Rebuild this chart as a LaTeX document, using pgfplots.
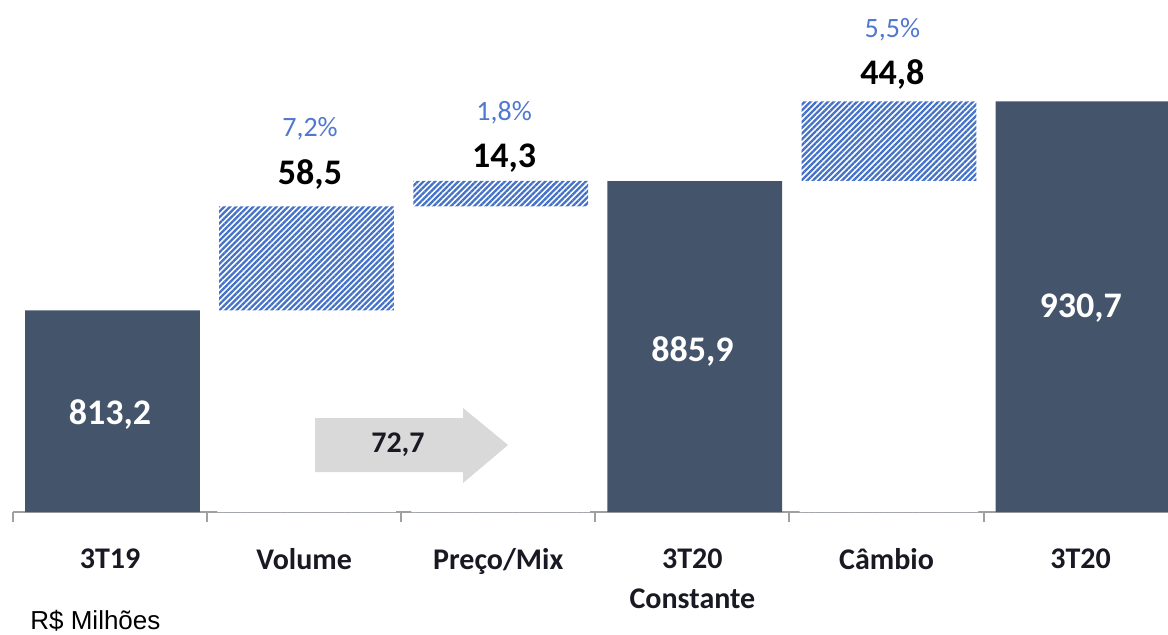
\documentclass[border=0pt]{standalone}
\usepackage{pgfplots}
\pgfplotsset{compat=1.18}
\usepackage{fontspec}
\setmainfont{Carlito}
\newfontfamily\arialfont{Liberation Sans}
\usetikzlibrary{patterns.meta}

\definecolor{barslate}{RGB}{68,84,106}
\definecolor{hatchblue}{RGB}{68,114,200}
\definecolor{pctblue}{RGB}{79,120,206}
\definecolor{arrowgray}{RGB}{217,217,217}
\definecolor{axisgray}{RGB}{160,160,160}
\definecolor{labelink}{RGB}{25,25,35}

\begin{document}
\begin{tikzpicture}
\useasboundingbox (0,0) rectangle (584pt,317pt);
\begin{axis}[
  at={(6.5pt,61pt)}, anchor=south west,
  scale only axis, width=577.5pt, height=256pt,
  xmin=-0.5, xmax=5.45, ymin=700, ymax=987.6,
  hide y axis, axis x line*=bottom,
  x axis line style={axisgray, line width=1pt, -},
  xtick={0,...,5},
  xticklabels={3T19, Volume, Preço/Mix, 3T20\\Constante, Câmbio, 3T20},
  major tick length=0pt,
  extra x ticks={-0.5,0.5,...,4.5}, extra x tick labels={},
  extra x tick style={major tick length=5pt, tick align=outside,
    tick style={axisgray, line width=1pt}},
  xticklabel style={font=\fontsize{15pt}{20pt}\selectfont\bfseries,
    text=labelink, align=center, anchor=north, inner sep=0pt, yshift=-18pt},
]
% solid totals
\addplot[ybar, bar width=0.9, bar shift=1.2pt, fill=barslate, draw=none]
  coordinates {(0,813.2) (3,885.9) (5,930.7)};
% variations: hatched up to the top, then white below the start
\addplot[ybar, bar width=0.9, bar shift=1.2pt, draw=none,
  pattern={Lines[angle=45, distance=2.05pt, line width=1.15pt]}, pattern color=hatchblue]
  coordinates {(1,871.7) (2,886.0) (4,930.7)};
\addplot[ybar, bar width=0.92, bar shift=1.2pt, fill=white, draw=none]
  coordinates {(1,813.2) (2,871.7) (4,885.9)};

% labels inside the bars
\addplot[draw=none, nodes near coords, point meta=explicit symbolic,
  nodes near coords style={anchor=center, white,
    font=\fontsize{18pt}{20pt}\selectfont\bfseries}]
  table[meta=lab] {
x y lab
0 754.5 {813,2}
3 789.9 {885,9}
5 814.6 {930,7}
};
% variation values
\addplot[draw=none, nodes near coords, point meta=explicit symbolic,
  nodes near coords style={anchor=center, black,
    font=\fontsize{18pt}{20pt}\selectfont\bfseries}]
  table[meta=lab] {
x y lab
1.03 889.6 {58,5}
2.03 898.9 {14,3}
4.03 945.5 {44,8}
};
% variation shares
\addplot[draw=none, nodes near coords, point meta=explicit symbolic,
  nodes near coords style={anchor=center, pctblue,
    font=\fontsize{14pt}{16pt}\selectfont}]
  table[meta=lab] {
x y lab
1.03 915.2 {7,2\%}
2.03 924.4 {1,8\%}
4.03 970.8 {5,5\%}
};
\end{axis}
% total variation arrow
\fill[arrowgray] (157.5pt,108pt) -- (231.5pt,108pt) -- (231.5pt,113pt)
  -- (254pt,94.5pt) -- (231.5pt,75.5pt) -- (231.5pt,81pt) -- (157.5pt,81pt) -- cycle;
\node[font=\fontsize{15pt}{17pt}\selectfont\bfseries, text=labelink]
  at (199pt,94.5pt) {72,7};
\node[anchor=base west, inner sep=0pt,
  font=\arialfont\fontsize{13pt}{15pt}\selectfont] at (15pt,2.5pt) {R\$ Milhões};
\end{tikzpicture}
\end{document}
